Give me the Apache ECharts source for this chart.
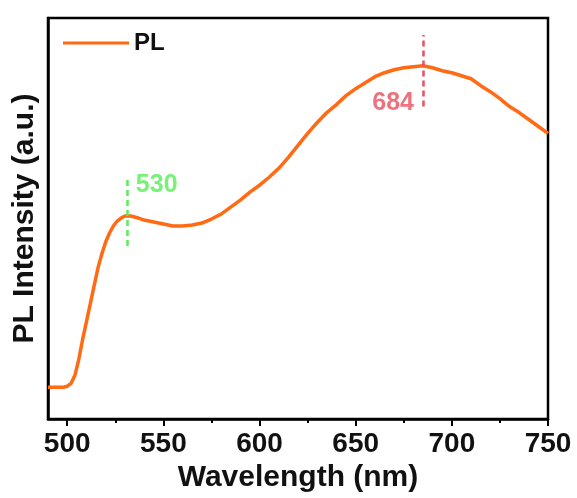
<!DOCTYPE html>
<html><head><meta charset="utf-8">
<script src="https://cdn.jsdelivr.net/npm/echarts@6/dist/echarts.min.js"></script>
<style>html,body{margin:0;padding:0;background:#fff}#c{width:577px;height:498px}</style>
</head><body><div id="c"></div>
<script>
const wavelength = [490,495,498,500,502,504,506,508,510,512,514,516,518,520,522,524,526,528,530,533,537,540,545,550,555,560,565,570,575,580,585,590,595,600,605,610,615,620,625,630,635,640,645,650,655,660,665,670,675,680,685,690,695,700,705,710,715,720,725,730,735,740,745,750];
const intensity  = [34,34,34,35,38,46,62,82,100,118,136,154,168,180,189,196,201,204,206,206,204,202,200,198,196,196,197,199,203,208,215,222,230,237,245,254,265,277,289,300,310,318,327,334,340,346,350,353,355,356,357,355,352,350,347,344,337,331,324,316,310,303,296,289];
const majorTicks = [500,550,600,650,700,750];
const minorTicks = [525,575,625,675,725];
const peakPos = [531,685];
const peakText = ['530','684'];
const peakLineLow = [176,316];
const peakLineHigh = [245,388];
const peakLabelY = [237,319];

const chart = echarts.init(document.getElementById('c'));
const font = 'Liberation Sans, Arial, sans-serif';
chart.setOption({
  animation:false,
  grid:{left:48,right:29,top:18,bottom:77,show:true,borderColor:'#000',borderWidth:2.5,backgroundColor:'transparent'},
  legend:{data:['PL'],left:58,top:26,itemWidth:66,itemHeight:14,icon:'path://M0,5.5 L66,5.5 L66,8.5 L0,8.5 Z',
    textStyle:{fontFamily:font,fontWeight:'bold',fontSize:24,color:'#111'},itemGap:4},
  xAxis:[{type:'value',min:490,max:750,
    axisLine:{show:true,lineStyle:{color:'#000',width:2.5}},
    axisTick:{show:true,customValues:majorTicks,length:7,lineStyle:{color:'#000',width:2}},
    axisLabel:{customValues:majorTicks,fontFamily:font,fontWeight:'bold',fontSize:28,color:'#111',margin:11},
    splitLine:{show:false},
    name:'Wavelength (nm)',nameLocation:'middle',nameGap:43,
    nameTextStyle:{fontFamily:font,fontWeight:'bold',fontSize:30,color:'#111'}},
   {type:'value',min:490,max:750,position:'bottom',
    axisLine:{show:false},
    axisTick:{show:true,customValues:minorTicks,length:4,lineStyle:{color:'#000',width:2}},
    axisLabel:{show:false},splitLine:{show:false}}],
  yAxis:{type:'value',min:2,max:405,axisLine:{show:true,lineStyle:{color:'#000',width:2.5}},
    axisTick:{show:false},axisLabel:{show:false},splitLine:{show:false},
    name:'PL Intensity (a.u.)',nameLocation:'middle',nameGap:8,
    nameTextStyle:{fontFamily:font,fontWeight:'bold',fontSize:30,color:'#111'}},
  series:[
    {name:'PL',type:'line',symbol:'none',data:wavelength.map((w,i)=>[w,intensity[i]]),
     lineStyle:{color:'#ff6a13',width:3.5},itemStyle:{color:'#ff6a13'},
     markLine:{silent:true,symbol:'none',label:{show:false},
       data:[
        [{coord:[peakPos[0],peakLineLow[0]],lineStyle:{color:'#55ee55',type:[6,4],width:2.5}},{coord:[peakPos[0],peakLineHigh[0]]}],
        [{coord:[peakPos[1],peakLineLow[1]],lineStyle:{color:'#ea4f5c',type:[6,4],width:2.5}},{coord:[peakPos[1],peakLineHigh[1]]}]
       ]}},
    {name:'labels',type:'scatter',symbolSize:0,
     data:[
      {value:[peakPos[0],peakLabelY[0]],label:{show:true,position:'right',distance:9,formatter:peakText[0],color:'#55ee55'}},
      {value:[peakPos[1],peakLabelY[1]],label:{show:true,position:'left',distance:9,formatter:peakText[1],color:'#ea4f5c'}}
     ],
     label:{fontFamily:font,fontWeight:'bold',fontSize:25}}
  ]
});
</script></body></html>
